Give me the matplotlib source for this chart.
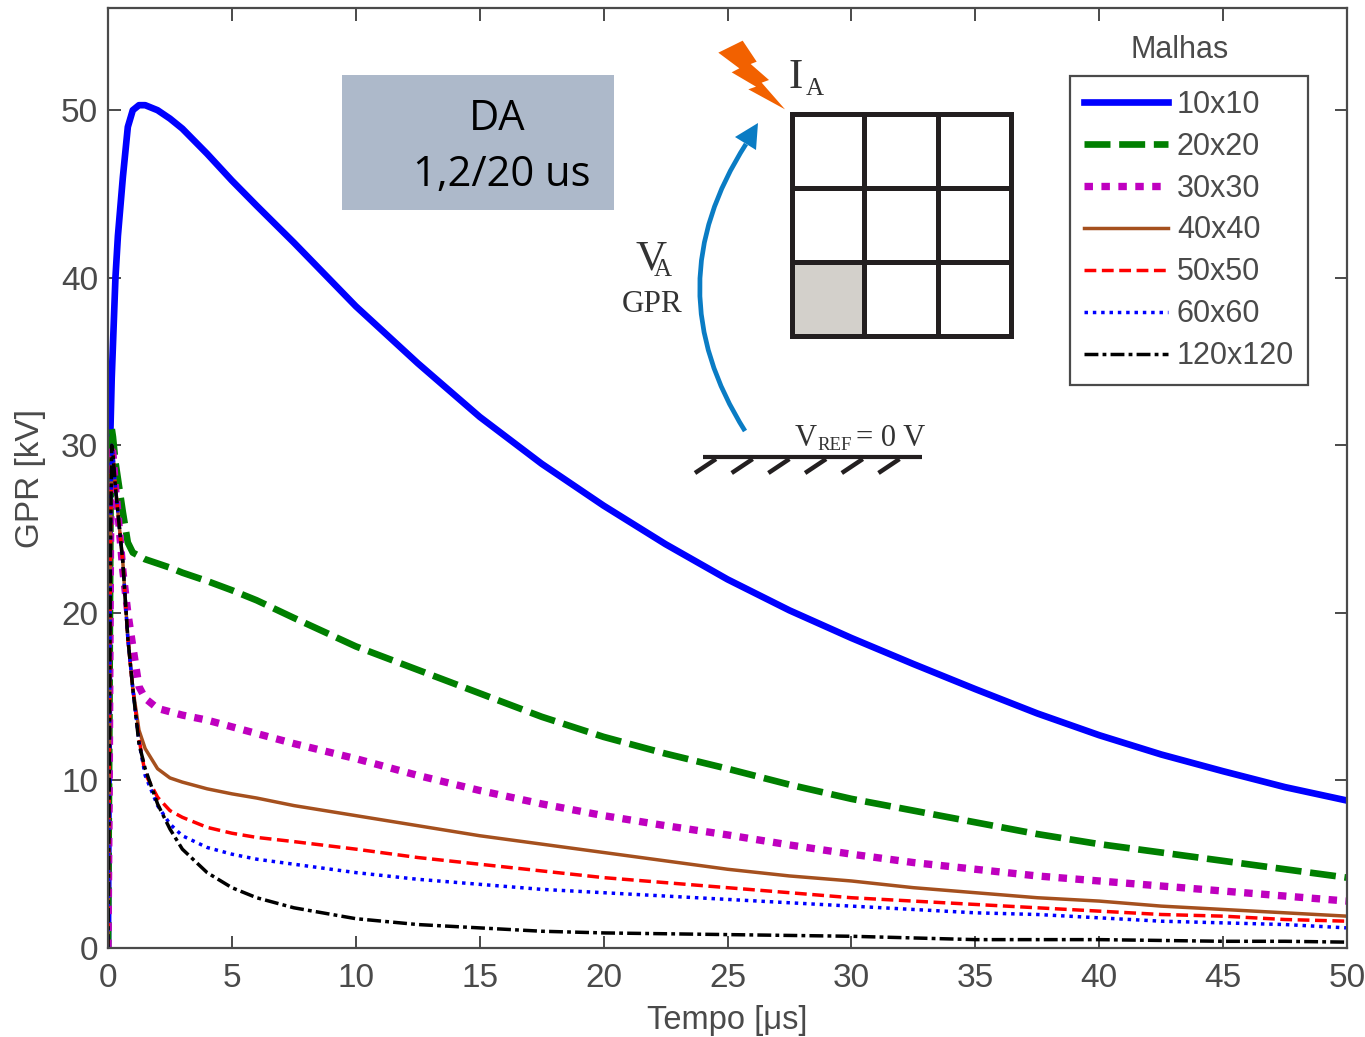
import matplotlib
matplotlib.use('Agg')
import matplotlib.pyplot as plt
from matplotlib.patches import PathPatch, Polygon, Rectangle
from matplotlib.path import Path

plt.rcParams['font.family'] = ['Liberation Sans', 'DejaVu Sans']

# Valores
tempo = [0, .05, .1, .15, .2, .3, .4, .6, .8, 1, 1.25, 1.5, 2, 2.5, 3, 4, 5, 6, 7.5, 10, 12.5, 15, 17.5, 20,
         22.5, 25, 27.5, 30, 32.5, 35, 37.5, 40, 42.5, 45, 47.5, 50]
m10 = [0, 22, 31, 34, 36, 40, 42.5, 46, 49, 50, 50.3, 50.3, 50, 49.5, 48.9, 47.4, 45.8, 44.3, 42.1, 38.3, 34.9, 31.7, 28.9, 26.4,
       24.1, 22, 20.15, 18.5, 16.95, 15.45, 14, 12.7, 11.55, 10.55, 9.6, 8.8]
m20 = [0, 12, 26, 31, 30.5, 29, 28, 26, 24.2, 23.6, 23.4, 23.2, 22.95, 22.7, 22.4, 21.9, 21.35, 20.75, 19.7, 18, 16.6, 15.2, 13.8, 12.6,
       11.6, 10.7, 9.75, 8.9, 8.2, 7.5, 6.8, 6.2, 5.7, 5.2, 4.7, 4.2]
m30 = [0, 10, 24, 30, 29.5, 27.5, 26, 22.5, 20, 18, 15.6, 14.9, 14.3, 14.1, 13.9, 13.6, 13.2, 12.8, 12.2, 11.3, 10.3, 9.4, 8.6, 7.9,
       7.3, 6.75, 6.15, 5.6, 5.1, 4.7, 4.3, 4, 3.7, 3.4, 3.1, 2.8]
m40 = [0, 10, 24, 30, 29.5, 27.5, 26, 23, 18.5, 15.5, 13, 11.9, 10.7, 10.15, 9.9, 9.5, 9.2, 8.95, 8.5, 7.9, 7.3, 6.7, 6.2, 5.7,
       5.2, 4.7, 4.3, 4, 3.6, 3.3, 3, 2.8, 2.5, 2.3, 2.1, 1.9]
m50 = [0, 10, 24, 30, 29.5, 27.5, 26, 23, 18.5, 15.5, 12.5, 10.4, 9, 8.2, 7.8, 7.2, 6.85, 6.6, 6.35, 5.9, 5.4, 5, 4.6, 4.2,
       3.9, 3.6, 3.3, 3, 2.8, 2.6, 2.4, 2.2, 2, 1.9, 1.7, 1.6]
m60 = [0, 10, 24, 30, 29.5, 27.5, 26, 23, 18.5, 15.5, 12.3, 10.3, 8.5, 7.4, 6.7, 6, 5.6, 5.3, 5, 4.5, 4.1, 3.8, 3.5, 3.3,
       3.1, 2.9, 2.7, 2.5, 2.3, 2.1, 2, 1.8, 1.6, 1.5, 1.4, 1.2]
m120 = [0, 10, 24, 30, 29.5, 27.5, 26, 23, 18.5, 15.5, 12.2, 10.7, 8.6, 7.1, 5.9, 4.5, 3.6, 3, 2.4, 1.75, 1.4, 1.2, 1, .9,
        .85, .8, .75, .7, .6, .5, .5, .5, .45, .4, .4, .35]
xticks = [0, 5, 10, 15, 20, 25, 30, 35, 40, 45, 50]
yticks = [0, 10, 20, 30, 40, 50]

W, H = 1365, 1037
CINZA = '#4a4a4a'
fig = plt.figure(figsize=(W / 100, H / 100), dpi=100)
ax = fig.add_axes([108 / W, (H - 948) / H, 1239 / W, 940 / H])

ax.plot(tempo, m10, color='#0000ff', lw=4.8, label='10x10')
ax.plot(tempo, m20, color='#007f00', lw=4.8, dashes=(3.9, 1.3), label='20x20')
ax.plot(tempo, m30, color='#bf00bf', lw=5.3, dashes=(1.15, 1.15), label='30x30')
ax.plot(tempo, m40, color='#a5501e', lw=2.5, label='40x40')
ax.plot(tempo, m50, color='#ff0000', lw=2.5, dashes=(3.4, 1.6), label='50x50')
ax.plot(tempo, m60, color='#0000ff', lw=2.5, dashes=(1, 1.4), label='60x60')
ax.plot(tempo, m120, color='#000000', lw=2.5, dashes=(4, 1.2, 1.1, 1.2), label='120x120')

ax.set_xlim(0, 50)
ax.set_ylim(0, 56.1)
ax.set_xticks(xticks)
ax.set_yticks(yticks)
ax.tick_params(direction='in', top=True, right=True, length=9, width=1.4, color=CINZA,
               labelsize=24, labelcolor=CINZA, pad=7)
ax.tick_params(axis='x', pad=11)
for s in ax.spines.values():
    s.set_color(CINZA)
    s.set_linewidth(1.6)
ax.set_xlabel('Tempo [μs]', fontsize=23.5, color=CINZA, labelpad=8)
ax.set_ylabel('GPR [kV]', fontsize=24, color=CINZA)
ax.yaxis.set_label_coords(-0.05, 0.5)

leg = ax.legend(loc='upper left', bbox_to_anchor=(1070 / W, (H - 76) / H), bbox_transform=fig.transFigure,
                fontsize=22, fancybox=False, framealpha=1, edgecolor=CINZA, borderaxespad=0,
                handlelength=2.75, handletextpad=0.3, labelspacing=0.39, borderpad=0.45)
leg.get_frame().set_linewidth(1.6)
for t in leg.get_texts():
    t.set_color(CINZA)

# Eixo por cima da figura inteira, em pixels, para o esquema
top = fig.add_axes([0, 0, 1, 1], facecolor='none')
top.set_xlim(0, W)
top.set_ylim(H, 0)
top.axis('off')

top.text(1180, 50, 'Malhas', fontsize=22, color=CINZA, ha='center', va='center')

top.add_patch(Rectangle((342, 75), 272, 135, color='#adb9ca', lw=0))
top.text(497, 119, 'DA', family='Open Sans', fontsize=30, color='black', ha='center', va='center')
top.text(502, 175, '1,2/20 us', family='Open Sans', fontsize=30, color='black', ha='center', va='center')

# malha
PRETO = '#231f20'
top.add_patch(Rectangle((791, 262), 73, 74, color='#d3d0cb', lw=0))
top.add_patch(Rectangle((791.5, 114), 219, 221.5, fill=False, ec=PRETO, lw=3.6))
for x in [864, 938]:
    top.plot([x, x], [114, 335.5], color=PRETO, lw=3.6, solid_capstyle='butt')
for y in [188, 262]:
    top.plot([791.5, 1010.5], [y, y], color=PRETO, lw=3.6, solid_capstyle='butt')

# raio
raio = [(85, 98), (158, 62), (200, 125), (182, 132), (237, 180), (215, 188), (285, 268), (175, 208),
        (198, 200), (125, 157), (148, 145)]
top.add_patch(Polygon([(690 + a / 3, 20 + b / 3) for a, b in raio], color='#f26100', lw=0))

# seta azul
AZUL = '#0a7cc4'
seta = Path([(745, 431), (654, 287), (746, 144)], [Path.MOVETO, Path.CURVE3, Path.CURVE3])
top.add_patch(PathPatch(seta, fill=False, ec=AZUL, lw=3.4))
top.add_patch(Polygon([(758, 123), (735, 137), (756, 150)], color=AZUL, lw=0))

# terra
top.plot([703, 922], [457, 457], color=PRETO, lw=3, solid_capstyle='butt')
for i in range(6):
    x = 695 + i * 36.7
    top.plot([x, x + 21], [473, 459], color=PRETO, lw=3.2, solid_capstyle='butt')

SERIF = 'Liberation Serif'
top.text(789, 88, 'I', family=SERIF, fontsize=31, color='#333333', va='baseline')
top.text(806, 95, 'A', family=SERIF, fontsize=18, color='#333333', va='baseline')
top.text(636, 270, 'V', family=SERIF, fontsize=31, color='#333333', va='baseline')
top.text(654, 276, 'A', family=SERIF, fontsize=18, color='#333333', va='baseline')
top.text(652, 305, 'GPR', family=SERIF, fontsize=22.5, color='#333333', ha='center', va='center')
top.text(795, 446, 'V', family=SERIF, fontsize=22, color='#333333', va='baseline')
top.text(817, 450, 'REF', family=SERIF, fontsize=13.5, color='#333333', va='baseline')
top.text(856, 446, '= 0 V', family=SERIF, fontsize=22, color='#333333', va='baseline')

plt.savefig('out.png', dpi=100)
plt.close(fig)
